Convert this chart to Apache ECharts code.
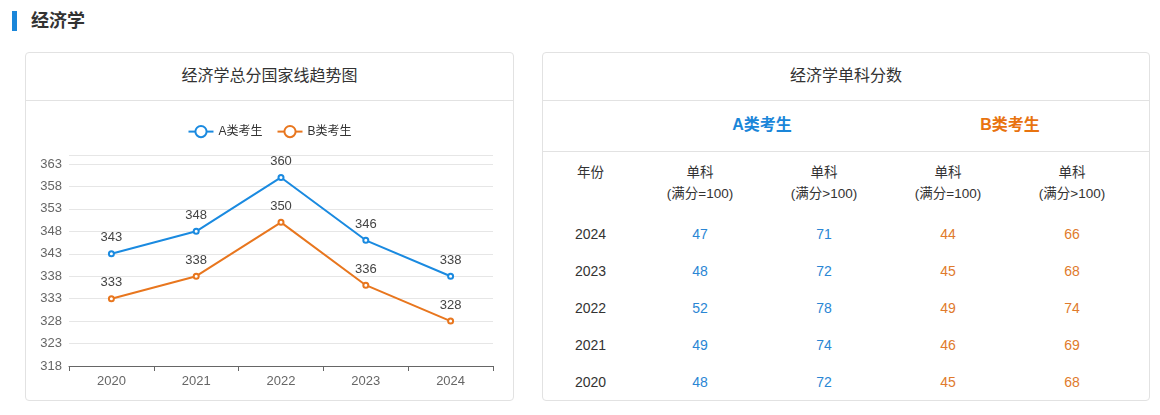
<!DOCTYPE html>
<html>
<head>
<meta charset="utf-8">
<script src="https://cdn.jsdelivr.net/npm/echarts@6/dist/echarts.min.js"></script>
<style>
  html, body { margin: 0; padding: 0; background: #fff; }
  body { width: 1160px; height: 415px; position: relative; overflow: hidden;
         font-family: "Liberation Sans", "Noto Sans CJK SC", sans-serif; color: #333; }
  .head-bar { position: absolute; left: 12px; top: 11px; width: 5px; height: 20px; background: #1a86d9; }
  .head-text { position: absolute; left: 31px; top: 9px; font-size: 18px; font-weight: bold; color: #333; line-height: 24px; }
  .card { position: absolute; top: 52px; height: 349px; border: 1px solid #e2e2e2; border-radius: 4px; box-sizing: border-box; background: #fff; }
  #left { left: 25px; width: 489px; }
  #right { left: 542px; width: 608px; }
  .card-title { height: 47px; line-height: 45px; text-align: center; font-size: 16px; color: #333; border-bottom: 1px solid #e2e2e2; }
  #chart { position: absolute; left: 0; top: 48px; width: 487px; height: 299px; }
  .sub { position: relative; height: 50px; border-bottom: 1px solid #e2e2e2; }
  .sub span { position: absolute; top: 0; line-height: 48px; font-size: 16px; font-weight: bold; width: 248px; text-align: center; }
  table { position: absolute; left: 0; top: 99px; border-collapse: collapse; table-layout: fixed; font-size: 14px; }
  td { padding: 0; text-align: center; }
  .blue { color: #2a86d4; }
  .orange { color: #e07a2c; }
</style>
</head>
<body>
<div class="head-bar"></div>
<div class="head-text">经济学</div>

<div class="card" id="left">
  <div class="card-title" id="leftTitle"></div>
  <div id="chart"></div>
</div>

<div class="card" id="right">
  <div class="card-title" id="rightTitle"></div>
  <div class="sub" id="sub"></div>
  <table id="tbl"></table>
</div>

<script>
// ---- data ----
const years = ['2020', '2021', '2022', '2023', '2024'];
const seriesA = [343, 348, 360, 346, 338];
const seriesB = [333, 338, 350, 336, 328];
const legendNames = ['A类考生', 'B类考生'];
const chartTitle = '经济学总分国家线趋势图';
const tableTitle = '经济学单科分数';

const tableYears = ['2024', '2023', '2022', '2021', '2020'];
const aEq100 = [47, 48, 52, 49, 48];
const aGt100 = [71, 72, 78, 74, 72];
const bEq100 = [44, 45, 49, 46, 45];
const bGt100 = [66, 68, 74, 69, 68];
const colHeaders = ['年份', '单科<br>(满分=100)', '单科<br>(满分>100)', '单科<br>(满分=100)', '单科<br>(满分>100)'];

const blue = '#1a8ae0';
const orange = '#e8761e';

// ---- titles ----
document.getElementById('leftTitle').textContent = chartTitle;
document.getElementById('rightTitle').textContent = tableTitle;
document.getElementById('sub').innerHTML =
  '<span style="left:95px;color:#1a86d9">' + legendNames[0] + '</span>' +
  '<span style="left:343px;color:#e8730f">' + legendNames[1] + '</span>';

// ---- table ----
const widths = [95, 124, 124, 124, 124];
let html = '<colgroup>' + widths.map(w => '<col style="width:' + w + 'px">').join('') + '</colgroup>';
html += '<tr style="height:64px">' + colHeaders.map(h =>
  '<td style="vertical-align:top;padding-top:10px;line-height:21px;font-size:13.5px;color:#333">' + h + '</td>').join('') + '</tr>';
for (let r = 0; r < tableYears.length; r++) {
  html += '<tr style="height:36.8px">' +
    '<td style="color:#333">' + tableYears[r] + '</td>' +
    '<td class="blue">' + aEq100[r] + '</td>' +
    '<td class="blue">' + aGt100[r] + '</td>' +
    '<td class="orange">' + bEq100[r] + '</td>' +
    '<td class="orange">' + bGt100[r] + '</td></tr>';
}
document.getElementById('tbl').innerHTML = html;

// ---- chart ----
const chart = echarts.init(document.getElementById('chart'), null, { renderer: 'canvas' });
const font = '"Liberation Sans", "Noto Sans CJK SC", sans-serif';
chart.setOption({
  animation: false,
  textStyle: { fontFamily: font },
  color: [blue, orange],
  legend: {
    top: 19,
    left: 'center',
    itemWidth: 25,
    itemHeight: 14,
    itemGap: 14,
    textStyle: { fontSize: 12, color: '#333', fontFamily: font },
    data: legendNames
  },
  grid: { left: 43, right: 20, top: 54, bottom: 34 },
  xAxis: {
    type: 'category',
    data: years,
    boundaryGap: true,
    axisLine: { lineStyle: { color: '#666' } },
    axisTick: { show: true, lineStyle: { color: '#666' }, length: 5 },
    axisLabel: { color: '#666', fontSize: 13, margin: 9 }
  },
  yAxis: {
    type: 'value',
    min: 318,
    max: 365,
    interval: 5,
    axisLine: { show: false },
    axisTick: { show: false },
    axisLabel: { color: '#666', fontSize: 13, showMaxLabel: false, margin: 7 },
    splitLine: { lineStyle: { color: '#e6e6e6' } }
  },
  series: [
    {
      name: legendNames[0], type: 'line', data: seriesA,
      symbol: 'emptyCircle', symbolSize: 5,
      lineStyle: { width: 2, color: blue },
      itemStyle: { color: blue, borderWidth: 2 },
      label: { show: true, position: 'top', color: '#444', fontSize: 13, distance: 6 }
    },
    {
      name: legendNames[1], type: 'line', data: seriesB,
      symbol: 'emptyCircle', symbolSize: 5,
      lineStyle: { width: 2, color: orange },
      itemStyle: { color: orange, borderWidth: 2 },
      label: { show: true, position: 'top', color: '#444', fontSize: 13, distance: 6 }
    }
  ]
});
</script>
</body>
</html>
